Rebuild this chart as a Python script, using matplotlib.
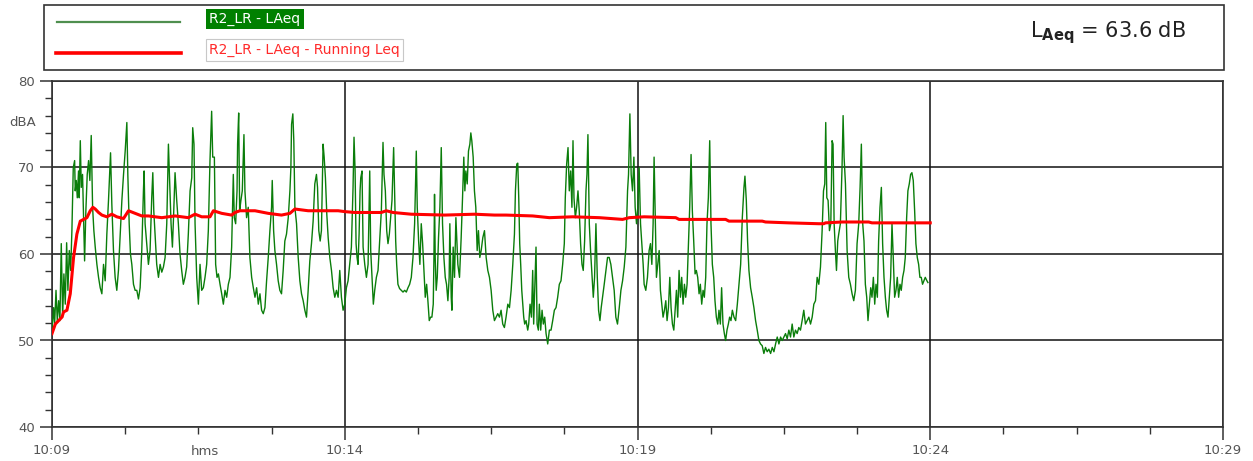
import numpy as np
import matplotlib
matplotlib.use('Agg')
import matplotlib.pyplot as plt
from matplotlib.lines import Line2D
from matplotlib.patches import Rectangle
from matplotlib.ticker import MultipleLocator

# (seconds after 10:09:00, dBA)
laeq_pts = [
    (0, 51.2), (1.7, 53.8), (2.7, 51.9), (4.1, 55.8), (5.4, 52.3), (6.8, 54.6), (8.1, 52.3), (9.5, 61.2),
    (10.9, 52.7), (12.2, 57.7), (13.6, 54.2), (15.0, 61.3), (16.3, 55.8), (17.7, 60.4), (19.1, 58.1),
    (20.4, 62.7), (21.8, 70.0), (23.2, 70.8), (23.8, 67.3), (24.9, 68.5), (25.9, 66.5), (27.2, 69.6),
    (27.9, 66.5), (29.0, 73.1), (30.0, 67.7), (31.3, 69.2), (32.4, 64.2), (33.4, 59.2), (34.7, 65.0),
    (36.1, 69.2), (37.5, 70.8), (38.8, 68.5), (40.2, 73.7), (41.6, 65.4), (42.9, 62.7), (44.3, 60.8),
    (46.0, 58.8), (47.7, 57.3), (49.4, 56.1), (51.1, 55.4), (52.8, 58.8), (54.5, 56.9), (56.2, 62.3),
    (57.9, 66.2), (60.0, 71.7), (61.3, 65.8), (63.0, 60.4), (64.7, 57.3), (66.4, 55.8), (68.1, 58.1),
    (69.9, 62.3), (71.6, 66.2), (73.3, 69.2), (75.0, 71.9), (76.7, 75.2), (77.7, 69.2), (79.1, 63.5),
    (80.4, 60.0), (81.8, 58.8), (83.5, 56.5), (85.2, 55.8), (86.9, 55.8), (88.6, 54.8), (90.3, 56.1),
    (92.0, 60.4), (93.7, 67.3), (94.4, 69.6), (95.4, 63.5), (97.1, 61.2), (98.8, 58.8), (100.5, 60.4),
    (102.2, 66.5), (103.3, 69.4), (104.3, 65.0), (105.6, 62.3), (107.3, 58.8), (109.1, 57.3),
    (110.8, 58.8), (112.5, 57.9), (114.2, 58.5), (115.9, 59.6), (117.6, 63.5), (119.3, 72.7),
    (120.6, 68.1), (122.0, 63.5), (123.4, 60.8), (124.4, 63.8), (126.1, 69.4), (127.8, 66.2),
    (129.5, 63.5), (131.2, 60.0), (132.9, 58.1), (134.6, 56.5), (136.3, 57.3), (138.0, 58.5),
    (139.7, 62.3), (141.5, 67.3), (143.2, 68.8), (144.2, 74.6), (145.5, 72.7),
    (146.6, 63.5), (148.3, 57.3), (150.0, 54.2), (151.7, 58.8), (153.4, 55.8), (155.1, 56.1),
    (156.8, 57.3), (158.5, 58.8), (160.2, 62.7), (161.9, 70.8), (163.6, 76.5), (164.7, 71.2),
    (166.4, 71.2), (167.7, 58.8), (169.1, 57.3), (170.5, 57.7), (172.2, 56.5), (173.9, 55.4),
    (175.6, 54.2), (177.3, 55.8), (179.0, 55.0), (180.7, 56.5), (182.4, 57.3), (184.1, 60.8),
    (185.8, 69.2), (186.8, 64.2), (188.2, 63.5), (189.6, 67.3), (190.2, 72.7), (191.3, 76.3),
    (192.3, 65.0), (193.6, 66.2), (195.0, 67.3), (196.7, 73.8), (197.7, 67.3), (199.4, 64.2),
    (201.1, 65.4), (202.8, 59.6), (204.6, 57.3), (206.3, 56.1), (208.0, 55.0), (209.7, 56.1),
    (211.4, 54.2), (213.1, 55.4), (214.8, 53.5), (216.5, 53.1), (218.2, 53.8), (219.9, 56.9),
    (221.6, 59.6), (223.3, 62.7), (225.0, 65.4), (225.7, 68.5), (227.1, 62.7), (228.4, 60.4),
    (230.1, 58.8), (231.8, 56.9), (233.5, 55.8), (235.2, 55.4), (236.9, 58.1), (238.6, 61.5),
    (240.3, 62.3), (242.1, 64.2), (243.8, 67.3), (244.8, 70.0), (245.5, 75.0), (246.8, 76.2),
    (247.8, 73.1), (248.9, 65.4), (250.6, 63.5), (252.3, 59.6), (254.0, 56.9), (255.7, 55.4),
    (257.4, 54.6), (259.1, 53.5), (260.8, 52.7), (262.5, 55.8), (264.2, 59.2), (265.9, 61.2),
    (267.6, 63.8), (269.3, 68.1), (271.0, 69.2), (272.1, 67.7), (273.4, 62.7), (274.8, 61.5),
    (276.1, 62.7), (277.8, 72.7), (278.9, 71.2), (280.2, 68.8), (281.6, 64.6), (283.0, 61.9),
    (284.7, 59.6), (286.4, 58.1), (288.1, 56.1), (289.8, 55.0), (291.5, 55.8), (293.2, 55.0),
    (294.9, 58.1), (296.6, 55.0), (298.3, 53.5),
    (300.0, 54.2), (301.7, 56.1), (303.4, 56.9), (305.1, 58.8), (306.8, 60.8), (308.5, 67.7),
    (309.5, 73.5), (310.6, 69.6), (311.6, 61.2), (312.6, 59.6), (313.6, 58.8), (314.7, 62.3),
    (315.7, 67.3), (316.4, 68.8), (317.7, 69.6), (318.8, 60.8), (320.5, 58.8), (322.2, 57.3),
    (323.9, 58.8), (325.6, 69.6), (326.6, 60.4), (328.0, 57.3), (329.3, 54.2), (330.7, 55.8),
    (332.4, 57.3), (334.1, 58.1), (335.8, 61.5), (337.5, 65.0), (339.2, 72.9), (340.2, 69.2),
    (341.6, 67.3), (343.0, 62.7), (344.3, 61.2), (345.7, 62.3), (347.0, 64.2), (348.4, 66.2),
    (349.4, 69.6), (350.1, 72.3), (351.1, 67.3), (352.2, 61.5), (353.2, 58.8), (354.5, 56.5),
    (356.2, 56.0), (358.0, 55.8), (359.7, 55.6), (361.4, 55.8), (363.1, 55.6), (364.8, 56.1),
    (366.5, 56.5), (368.2, 57.3), (369.9, 59.6), (371.6, 63.5), (373.3, 71.9), (374.3, 65.4),
    (375.7, 61.5), (377.0, 58.8), (378.4, 63.5), (379.8, 61.2), (381.1, 58.1), (382.5, 55.0),
    (383.9, 56.5), (385.2, 54.6), (386.6, 52.3), (388.0, 52.7), (389.3, 52.7), (390.7, 54.2),
    (391.4, 59.6), (392.0, 66.9), (392.7, 59.6), (393.7, 55.8), (394.8, 57.3), (396.1, 61.9),
    (397.5, 65.4), (398.9, 72.3), (400.2, 63.5), (401.6, 59.6), (403.0, 57.3), (404.3, 56.5),
    (405.7, 54.6), (407.0, 57.3), (407.7, 63.5), (409.1, 55.0), (409.8, 53.5), (411.1, 60.8),
    (412.5, 57.3), (413.9, 64.2), (414.9, 61.5), (415.9, 58.8), (417.6, 57.3), (419.3, 61.9),
    (420.7, 66.5), (422.0, 71.2), (423.1, 67.3), (424.1, 69.6), (425.5, 68.1), (426.8, 71.9),
    (428.2, 72.7), (429.2, 74.0), (430.2, 73.1), (431.6, 71.2), (432.9, 67.3), (434.3, 65.4),
    (435.7, 60.4), (437.0, 62.7), (438.4, 59.6), (439.8, 60.4), (441.5, 61.9), (443.2, 62.7),
    (444.9, 59.6), (446.6, 58.1),
    (448.3, 57.3), (450.0, 55.8), (451.7, 53.5), (453.4, 52.3), (455.1, 52.7), (456.8, 53.1),
    (458.5, 52.7), (460.2, 53.5), (461.9, 51.9), (463.6, 51.5), (465.3, 52.7), (467.1, 54.2),
    (468.8, 53.8), (470.5, 55.8), (472.2, 58.8), (473.9, 62.3), (474.9, 67.3), (476.3, 70.4),
    (477.3, 70.5), (478.3, 66.5), (479.3, 61.2), (480.3, 58.8), (481.4, 55.8), (482.4, 54.2),
    (483.4, 52.7), (484.4, 51.9), (485.8, 52.3), (487.5, 51.2), (488.5, 51.9), (489.9, 54.2),
    (491.3, 52.7), (492.6, 58.1), (493.6, 51.9), (494.7, 55.8), (496.0, 60.8), (497.1, 51.9),
    (498.4, 51.2), (499.4, 54.2), (500.8, 51.2), (502.2, 53.5), (503.5, 51.9), (504.9, 52.7),
    (506.3, 50.8), (508.0, 49.6), (509.7, 51.2), (511.4, 51.2), (513.1, 52.3), (514.8, 53.5),
    (516.5, 53.8), (518.2, 55.0), (519.9, 56.5), (521.6, 56.9), (523.3, 58.8), (525.0, 61.2),
    (526.0, 66.5), (527.4, 70.4), (528.8, 72.3), (530.1, 67.3), (531.5, 69.6), (532.8, 65.4),
    (533.9, 73.1), (534.9, 66.5), (536.3, 64.2), (537.6, 65.4), (539.0, 67.3), (540.3, 65.0),
    (541.7, 61.2), (543.1, 58.8), (544.4, 58.1), (545.8, 61.5), (547.2, 67.3), (548.2, 69.2),
    (549.2, 73.8), (550.6, 63.5), (551.9, 60.4), (553.3, 57.7), (554.7, 55.0), (556.0, 57.3),
    (557.4, 63.5), (558.8, 57.3), (560.1, 53.5), (561.5, 52.3), (562.8, 53.8), (564.2, 55.0),
    (565.9, 56.5), (567.6, 58.1), (569.3, 59.6), (571.0, 59.6), (572.7, 58.8), (574.4, 57.3),
    (576.1, 55.8), (577.8, 52.7), (579.5, 51.9), (581.3, 53.8), (583.0, 55.8), (584.7, 56.9),
    (586.4, 58.5), (588.1, 60.8), (589.8, 67.3), (590.8, 69.2), (592.2, 76.2), (593.5, 69.2),
    (594.9, 67.3), (596.3, 71.2), (597.6, 65.4), (599.0, 63.5), (600.3, 65.4),
    (601.7, 70.0), (603.1, 63.5), (604.4, 61.2), (605.8, 58.8), (606.8, 56.5), (608.5, 55.8),
    (610.2, 57.3), (611.9, 60.4), (613.3, 61.2), (614.7, 58.8), (616.0, 63.5), (617.0, 71.2),
    (618.1, 65.0), (619.4, 57.3), (620.8, 58.8), (622.2, 60.4), (623.5, 55.8), (624.9, 54.2),
    (626.2, 52.7), (627.6, 53.5), (629.0, 54.6), (630.3, 52.3), (631.7, 53.8), (633.1, 57.3),
    (634.4, 53.8), (635.8, 51.9), (637.2, 51.2), (638.5, 53.5), (639.9, 55.8), (641.2, 52.7),
    (642.6, 58.1), (644.0, 55.0), (645.3, 57.3), (646.7, 54.2), (648.1, 56.5), (649.4, 55.0),
    (650.8, 56.5), (652.2, 61.2), (653.5, 65.4), (654.9, 71.5), (656.2, 65.0), (657.6, 61.5),
    (659.0, 57.7), (660.3, 58.1), (661.7, 57.3), (663.1, 55.4), (664.4, 56.5), (665.8, 54.2),
    (667.2, 55.8), (668.5, 55.0), (669.9, 57.3), (671.2, 63.5), (672.6, 66.5), (674.0, 73.1),
    (675.3, 63.5), (676.7, 58.8), (678.1, 57.3), (679.4, 54.6), (680.8, 52.7), (682.2, 51.9),
    (683.5, 53.5), (684.9, 51.9), (686.2, 56.1), (687.6, 51.9), (689.0, 50.8), (690.3, 50.0),
    (691.7, 51.2), (693.1, 51.9), (694.4, 52.7), (695.8, 52.3), (697.2, 53.5), (698.9, 52.7),
    (700.6, 52.3), (702.3, 54.2), (704.0, 56.5), (705.7, 58.8), (707.4, 64.2), (709.1, 67.7),
    (710.1, 69.0), (711.5, 66.2), (712.8, 61.5), (714.2, 58.1), (715.9, 56.1), (717.6, 55.0),
    (719.3, 53.8), (721.0, 52.3), (722.7, 51.2), (724.4, 50.0), (726.1, 49.6), (727.8, 49.4),
    (729.5, 48.5), (731.2, 49.2), (732.9, 48.7), (734.6, 49.0), (736.4, 48.5), (738.1, 49.2),
    (739.8, 48.7), (741.5, 49.6), (743.2, 50.4), (744.9, 49.6), (746.6, 50.4), (748.3, 50.0),
    (750.0, 50.4), (751.7, 50.8), (753.4, 50.2),
    (755.1, 51.2), (756.8, 50.4), (758.5, 51.9), (760.2, 50.4), (761.9, 51.2), (763.6, 50.8),
    (765.3, 51.5), (767.0, 51.2), (768.7, 52.3), (770.4, 53.5), (772.1, 51.9), (773.9, 52.3),
    (775.6, 52.7), (777.3, 51.9), (779.0, 52.7), (780.7, 54.2), (782.4, 54.6), (784.1, 57.3),
    (785.8, 56.5), (787.5, 58.5), (789.2, 62.7), (790.6, 67.3), (791.9, 68.1), (792.9, 75.2),
    (794.0, 66.5), (795.3, 66.2), (796.7, 62.7), (798.1, 63.5), (799.4, 73.1), (800.4, 72.7),
    (801.5, 63.5), (802.8, 60.4), (803.9, 58.1), (805.2, 61.5), (806.2, 62.3), (807.9, 63.5),
    (809.6, 70.0), (810.7, 76.0), (811.7, 71.2), (813.1, 68.1), (814.8, 60.4), (816.5, 57.3),
    (818.2, 56.5), (819.9, 55.4), (821.6, 54.6), (823.3, 55.8), (825.0, 61.2), (826.7, 63.5),
    (828.1, 67.7), (829.4, 72.7), (830.8, 63.5), (832.1, 61.5), (833.5, 56.5), (834.9, 55.0),
    (836.2, 52.3), (837.6, 54.2), (839.0, 56.1), (840.3, 55.0), (841.7, 57.3), (843.1, 54.2),
    (844.4, 56.5), (845.8, 55.0), (847.1, 61.5), (848.5, 65.4), (849.9, 67.7), (851.2, 61.2),
    (852.6, 57.3), (854.0, 55.0), (855.3, 53.5), (856.7, 52.7), (858.1, 55.0), (859.4, 57.3),
    (860.8, 63.5), (862.1, 59.6), (863.5, 55.0), (864.9, 55.8), (866.2, 57.3), (867.6, 55.0),
    (869.0, 56.5), (870.3, 55.8), (871.7, 57.3), (873.1, 58.1), (874.4, 59.6), (875.8, 64.2),
    (877.1, 67.3), (878.5, 68.1), (879.9, 69.2), (881.2, 69.4), (882.6, 68.5), (884.0, 65.0),
    (885.3, 61.2), (886.7, 59.6), (888.1, 58.8), (889.4, 57.3), (890.8, 57.3), (892.1, 56.5),
    (893.5, 56.9), (894.9, 57.3), (896.6, 56.9), (897.6, 56.7),
]

running_leq_pts = [
    (0, 50.8), (3.4, 51.9), (6.8, 52.3), (10.2, 52.7), (11.9, 53.3), (15.3, 53.5), (18.7, 55.4),
    (22.1, 59.6), (25.5, 62.3), (29.0, 63.8), (32.4, 64.0), (35.8, 64.2), (39.2, 65.0), (41.9, 65.4),
    (44.3, 65.2), (47.7, 64.8), (51.1, 64.5), (56.2, 64.3), (61.3, 64.6), (66.4, 64.3), (73.3, 64.1),
    (78.4, 65.0), (85.2, 64.7), (92.0, 64.4), (98.8, 64.4), (105.6, 64.3), (112.5, 64.2),
    (119.3, 64.3), (126.1, 64.4), (132.9, 64.3), (139.7, 64.2), (144.8, 64.5), (146.6, 64.6),
    (153.4, 64.3), (161.9, 64.3), (165.4, 65.0), (173.9, 64.7), (184.1, 64.5), (187.5, 64.8),
    (192.6, 65.0), (208.0, 65.0), (221.6, 64.7), (235.2, 64.5), (243.8, 64.7), (248.9, 65.2),
    (262.5, 65.0), (279.5, 65.0), (293.2, 65.0), (300.0, 64.9), (310.2, 64.8), (337.5, 64.8),
    (342.6, 65.0), (349.4, 64.8), (368.2, 64.6), (402.3, 64.5), (433.0, 64.6), (453.4, 64.5),
    (465.3, 64.5), (492.6, 64.4), (509.7, 64.2), (533.5, 64.3), (560.8, 64.2), (584.7, 64.0),
    (591.5, 64.2), (606.8, 64.3), (639.2, 64.2), (642.6, 64.0), (690.3, 64.0), (693.7, 63.8),
    (727.8, 63.8), (731.2, 63.7), (755.1, 63.6), (785.8, 63.5), (790.9, 63.5), (792.6, 63.6),
    (809.6, 63.7), (836.9, 63.7), (840.3, 63.6), (900.0, 63.6),
]

x_ticks = [0, 300, 600, 900, 1200]
x_tick_labels = ['10:09', '10:14', '10:19', '10:24', '10:29']
y_ticks = [40, 50, 60, 70, 80]
laeq_total = 63.6

plt.rcParams['font.family'] = 'DejaVu Sans'

W, H = 1253, 461
fig = plt.figure(figsize=(W / 100, H / 100), dpi=100)


def fx(px):
    return px / W


def fy(py):
    return 1 - py / H


ax = fig.add_axes([fx(52), fy(427), fx(1223) - fx(52), fy(81) - fy(427)])

t1, v1 = np.array(laeq_pts).T
t2, v2 = np.array(running_leq_pts).T
ax.plot(t1, v1, color='#0a7d0a', lw=1.0, zorder=3)
ax.plot(t2, v2, color='#ff0000', lw=2.2, zorder=4)

ax.set_xlim(0, 1200)
ax.set_ylim(40, 80)
ax.set_xticks(x_ticks)
ax.set_xticklabels(x_tick_labels)
ax.xaxis.set_minor_locator(MultipleLocator(75))
ax.set_yticks(y_ticks)
ax.yaxis.set_minor_locator(MultipleLocator(2))
ax.tick_params(which='major', length=9, width=1.1, color='#333333', labelcolor='#555555',
               labelsize=9.5, direction='out')
ax.tick_params(which='minor', length=5, width=1.0, color='#333333', direction='out')
ax.grid(which='major', color='#111111', lw=1.1, zorder=1)
for s in ax.spines.values():
    s.set_color('#333333')
    s.set_linewidth(1.2)

# legend block above the plot
fig.add_artist(Rectangle((fx(44), fy(70)), fx(1224) - fx(44), fy(5) - fy(70),
                         transform=fig.transFigure, fill=False, ec='#333333', lw=1.2))
fig.add_artist(Line2D([fx(57), fx(180)], [fy(22), fy(22)], color='#4f8f4f', lw=1.6))
fig.add_artist(Line2D([fx(56), fx(181)], [fy(53), fy(53)], color='#ff0000', lw=2.6))
fig.text(fx(209), fy(19), 'R2_LR - LAeq', color='white', fontsize=10, va='center',
         bbox=dict(boxstyle='square,pad=0.25', fc='#008000', ec='none'))
fig.text(fx(209), fy(50), 'R2_LR - LAeq - Running Leq', color='#ff2a2a', fontsize=10, va='center',
         bbox=dict(boxstyle='square,pad=0.25', fc='white', ec='#c8c8c8', lw=0.8))
fig.text(fx(1030), fy(33), r'L$_{\mathbf{Aeq}}$ = %.1f dB' % laeq_total, fontsize=15,
         va='center', color='#222222')

fig.text(fx(23), fy(123), 'dBA', color='#555555', fontsize=9.5, ha='center', va='center')
fig.text(fx(205), fy(451), 'hms', color='#555555', fontsize=9.5, ha='center', va='center')

fig.savefig('out.png', dpi=100)
